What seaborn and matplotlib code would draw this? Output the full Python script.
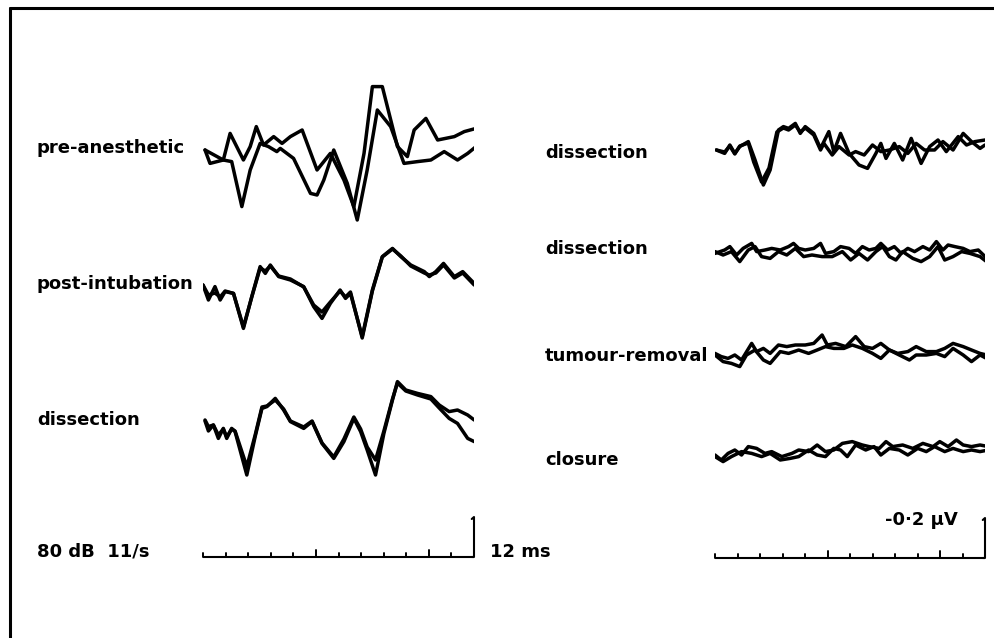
import matplotlib
matplotlib.use("Agg")
import matplotlib.pyplot as plt
from matplotlib.lines import Line2D
import seaborn as sns

# Hörselsvar (ABR), två svep per tillstånd. Tid i ms, amplitud i µV.

# --- vänster panel ---
pre_t1 = [0.09, 0.31, 0.90, 1.27, 1.72, 2.09, 2.53, 2.90, 3.27, 3.42, 4.01, 4.76, 5.05, 5.35,
          5.79, 6.39, 6.83, 7.27, 7.72, 8.31, 8.90, 9.50, 10.09, 10.68, 11.27, 11.72, 12.09]
pre_a1 = [0.0, -0.067, -0.05, -0.058, -0.283, -0.10, 0.033, 0.017, -0.008, 0.008, -0.042, -0.217,
          -0.225, -0.15, 0.0, -0.167, -0.35, -0.10, 0.20, 0.117, -0.067, -0.058, -0.05, -0.008,
          -0.05, -0.017, 0.017]
pre_t2 = [0.09, 0.90, 1.20, 1.79, 2.09, 2.36, 2.68, 3.13, 3.50, 3.87, 4.39, 5.05, 5.64, 6.24,
          6.68, 7.13, 7.50, 7.94, 8.61, 9.05, 9.35, 9.87, 10.39, 11.13, 11.57, 12.09]
pre_a2 = [0.0, -0.05, 0.083, -0.05, 0.017, 0.117, 0.025, 0.067, 0.033, 0.067, 0.10, -0.10,
          -0.017, -0.15, -0.283, -0.017, 0.317, 0.317, 0.017, -0.033, 0.10, 0.158, 0.05, 0.067,
          0.092, 0.108]

post_t = [0.0, 0.24, 0.53, 0.76, 0.98, 1.35, 1.79, 2.16, 2.53, 2.76, 2.98, 3.35, 3.87, 4.46,
          4.90, 5.27, 5.64, 6.07, 6.31, 6.53, 7.05, 7.50, 7.94, 8.39, 8.76, 9.20, 9.80, 10.02,
          10.31, 10.65, 11.13, 11.50, 12.01]
post_a1 = [0.0, -0.075, -0.008, -0.075, -0.033, -0.042, -0.217, -0.058, 0.092, 0.058, 0.10,
           0.042, 0.025, -0.008, -0.108, -0.167, -0.092, -0.025, -0.067, -0.042, -0.258, -0.025,
           0.142, 0.183, 0.142, 0.10, 0.067, 0.042, 0.067, 0.108, 0.042, 0.067, 0.008]
post_a2 = [0.0, -0.05, -0.04, -0.06, -0.03, -0.042, -0.21, -0.06, 0.085, 0.07, 0.095, 0.045,
           0.03, -0.01, -0.10, -0.135, -0.085, -0.03, -0.06, -0.035, -0.265, -0.03, 0.14, 0.18,
           0.145, 0.095, 0.06, 0.05, 0.06, 0.10, 0.035, 0.06, 0.0]

dis_t = [0.09, 0.24, 0.46, 0.68, 0.90, 1.05, 1.27, 1.42, 1.94, 2.31, 2.61, 2.83, 3.20, 3.57,
         3.87, 4.46, 4.83, 5.27, 5.79, 6.24, 6.68, 6.98, 7.27, 7.64, 8.01, 8.39, 8.61, 8.98,
         9.50, 10.09, 10.46, 10.90, 11.27, 11.72, 12.01]
dis_a1 = [0.025, -0.008, 0.0, -0.067, -0.017, -0.067, -0.017, -0.033, -0.25, -0.058, 0.083,
          0.092, 0.133, 0.075, 0.017, -0.017, 0.017, -0.092, -0.167, -0.083, 0.033, -0.033,
          -0.125, -0.25, -0.042, 0.125, 0.217, 0.175, 0.158, 0.142, 0.10, 0.067, 0.075, 0.05,
          0.025]
dis_a2 = [0.02, -0.03, 0.0, -0.05, -0.02, -0.06, -0.02, -0.03, -0.208, -0.05, 0.09, 0.095,
          0.125, 0.08, 0.02, -0.01, 0.02, -0.09, -0.16, -0.07, 0.04, -0.02, -0.11, -0.175,
          -0.03, 0.13, 0.21, 0.17, 0.15, 0.13, 0.085, 0.033, 0.008, -0.067, -0.083]

# --- höger panel ---
rd1_t1 = [0.06, 0.43, 0.66, 0.88, 1.10, 1.48, 1.78, 2.15, 2.45, 2.82, 3.04, 3.27, 3.57, 3.79,
          4.01, 4.39, 4.69, 5.06, 5.28, 5.58, 5.96, 6.40, 6.78, 7.15, 7.37, 7.60, 7.97, 8.34,
          8.72, 9.16, 9.54, 9.91, 10.28, 10.81, 11.18, 11.55, 12.0]
rd1_a1 = [0.0, -0.017, 0.025, -0.017, 0.017, 0.042, -0.05, -0.175, -0.10, 0.10, 0.117, 0.108,
          0.133, 0.083, 0.117, 0.083, 0.008, 0.092, -0.008, 0.083, -0.017, -0.075, -0.092,
          -0.017, 0.033, -0.042, 0.033, -0.05, 0.058, -0.067, 0.017, 0.05, -0.008, 0.067,
          0.025, 0.042, 0.05]
rd1_t2 = [0.06, 0.43, 0.66, 0.88, 1.10, 1.48, 1.72, 2.07, 2.40, 2.75, 3.04, 3.27, 3.57, 3.79,
          4.01, 4.39, 4.69, 4.84, 5.21, 5.51, 5.96, 6.25, 6.63, 7.00, 7.37, 7.75, 8.19, 8.57,
          8.94, 9.31, 9.76, 10.13, 10.58, 11.03, 11.40, 11.78, 12.0]
rd1_a2 = [0.0, -0.01, 0.02, -0.02, 0.02, 0.035, -0.06, -0.16, -0.09, 0.09, 0.11, 0.10, 0.125,
          0.09, 0.11, 0.075, 0.0, 0.033, -0.025, 0.017, -0.025, -0.008, -0.025, 0.025, -0.008,
          0.0, 0.017, -0.017, 0.033, 0.0, 0.0, 0.042, 0.0, 0.083, 0.042, 0.008, 0.025]

rd2_t1 = [0.0, 0.43, 0.66, 0.96, 1.25, 1.63, 1.85, 2.22, 2.52, 2.90, 3.27, 3.49, 3.72, 4.01,
          4.39, 4.69, 4.91, 5.28, 5.58, 5.96, 6.25, 6.55, 6.85, 7.15, 7.37, 7.67, 7.97, 8.27,
          8.57, 8.87, 9.24, 9.54, 9.84, 10.13, 10.36, 10.66, 11.03, 11.33, 11.70, 12.07]
rd2_a1 = [-0.017, 0.0, 0.017, -0.025, 0.008, 0.033, -0.008, 0.0, 0.008, 0.0, 0.017, 0.033,
          0.008, 0.0, 0.008, 0.033, -0.017, -0.008, 0.017, 0.008, -0.017, 0.017, 0.0, 0.008,
          0.033, 0.0, 0.017, -0.017, 0.008, -0.008, 0.017, 0.0, 0.042, 0.0, 0.025, 0.017,
          0.008, -0.008, 0.0, -0.04]
rd2_t2 = [0.0, 0.36, 0.73, 1.10, 1.48, 1.78, 2.07, 2.45, 2.82, 3.19, 3.57, 3.94, 4.31, 4.76,
          5.21, 5.66, 6.03, 6.40, 6.78, 7.15, 7.45, 7.75, 8.04, 8.34, 8.79, 9.16, 9.54, 9.91,
          10.21, 10.58, 10.96, 11.33, 11.78, 12.07]
rd2_a2 = [-0.008, -0.025, -0.008, -0.058, 0.0, 0.017, -0.033, -0.042, -0.008, -0.025, 0.008,
          -0.033, -0.025, -0.033, -0.033, -0.008, -0.05, -0.017, -0.05, -0.008, 0.017, -0.033,
          -0.05, -0.008, -0.042, -0.058, -0.033, 0.017, -0.05, -0.033, -0.008, -0.017, -0.033,
          -0.058]

tum_t1 = [0.0, 0.28, 0.58, 0.88, 1.18, 1.63, 1.85, 2.15, 2.45, 2.82, 3.19, 3.57, 4.01, 4.39,
          4.76, 4.99, 5.36, 5.81, 6.25, 6.63, 7.00, 7.37, 7.75, 8.12, 8.57, 8.94, 9.39, 9.84,
          10.21, 10.58, 11.03, 11.40, 11.78, 12.07]
tum_a1 = [0.008, -0.008, -0.017, 0.0, -0.025, 0.058, 0.017, 0.033, 0.008, 0.05, 0.042, 0.05,
          0.05, 0.058, 0.10, 0.05, 0.058, 0.042, 0.092, 0.042, 0.033, 0.058, 0.025, 0.008,
          0.017, 0.042, 0.017, 0.017, 0.033, 0.058, 0.042, 0.025, 0.008, 0.0]
tum_t2 = [0.0, 0.36, 0.73, 1.10, 1.40, 1.78, 2.15, 2.45, 2.90, 3.27, 3.72, 4.16, 4.54, 4.91,
          5.28, 5.73, 6.10, 6.55, 7.00, 7.37, 7.75, 8.19, 8.64, 8.94, 9.39, 9.84, 10.21, 10.58,
          11.03, 11.40, 11.78, 12.07]
tum_a2 = [0.0, -0.033, -0.042, -0.058, 0.0, 0.025, -0.025, -0.042, 0.017, 0.008, 0.025, 0.008,
          0.025, 0.042, 0.033, 0.033, 0.05, 0.033, 0.008, -0.017, 0.025, 0.0, -0.025, 0.0, 0.0,
          0.008, -0.008, 0.033, 0.0, -0.033, 0.0, -0.017]

clo_t1 = [0.0, 0.28, 0.58, 0.88, 1.18, 1.48, 1.85, 2.22, 2.52, 2.97, 3.42, 3.72, 4.16, 4.54,
          4.91, 5.28, 5.66, 6.10, 6.55, 6.85, 7.30, 7.60, 7.90, 8.34, 8.79, 9.24, 9.69, 9.99,
          10.36, 10.73, 11.03, 11.40, 11.78, 12.15]
clo_a1 = [0.0, -0.025, 0.008, 0.025, 0.0, 0.042, 0.033, 0.008, 0.017, -0.008, 0.008, 0.025,
          0.017, 0.05, 0.017, 0.025, 0.058, 0.067, 0.05, 0.042, 0.033, 0.067, 0.042, 0.05,
          0.033, 0.058, 0.042, 0.067, 0.042, 0.075, 0.05, 0.042, 0.05, 0.042]
clo_t2 = [0.0, 0.36, 0.73, 1.18, 1.63, 2.07, 2.45, 2.90, 3.34, 3.72, 4.16, 4.54, 4.91, 5.28,
          5.58, 5.88, 6.25, 6.70, 7.07, 7.37, 7.75, 8.19, 8.57, 9.01, 9.39, 9.76, 10.21, 10.58,
          11.03, 11.40, 11.78, 12.15]
clo_a2 = [-0.008, -0.033, -0.008, 0.017, 0.008, -0.008, 0.008, -0.025, -0.017, -0.008, 0.025,
          0.0, -0.008, 0.033, 0.025, -0.008, 0.05, 0.025, 0.042, 0.0, 0.033, 0.025, 0.0, 0.033,
          0.017, 0.042, 0.017, 0.033, 0.017, 0.025, 0.017, 0.025]

left_labels = ["pre-anesthetic", "post-intubation", "dissection"]
right_labels = ["dissection", "dissection", "tumour-removal", "closure"]
scale_ticks_ms = list(range(0, 13))
major_ticks_ms = [5, 10]
amp_bar_uv = 0.2

# Layout: pixel-rader för baslinjer (y i µV, 200 px per µV, 0 vid överkant)
W, H = 994, 638
PX_PER_UV = 200.0


def base(py):
    return -py / PX_PER_UV


left_traces = [
    ((pre_t1, pre_a1), (pre_t2, pre_a2), base(150)),
    ((post_t, post_a1), (post_t, post_a2), base(285)),
    ((dis_t, dis_a1), (dis_t, dis_a2), base(425)),
]
right_traces = [
    ((rd1_t1, rd1_a1), (rd1_t2, rd1_a2), base(150)),
    ((rd2_t1, rd2_a1), (rd2_t2, rd2_a2), base(250)),
    ((tum_t1, tum_a1), (tum_t2, tum_a2), base(355)),
    ((clo_t1, clo_a1), (clo_t2, clo_a2), base(455)),
]

sns.set_style("white")
plt.rcParams["font.family"] = ["DejaVu Sans"]

fig = plt.figure(figsize=(W / 100, H / 100), dpi=100)
ax_l = fig.add_axes([203 / W, 0, 271 / W, 1])
ax_r = fig.add_axes([715 / W, 0, 270 / W, 1])


def draw_panel(ax, traces, bar_py):
    for (t1, a1), (t2, a2), off in traces:
        for t, a in ((t1, a1), (t2, a2)):
            sns.lineplot(x=t, y=[v + off for v in a], ax=ax, color="black", lw=2.5,
                         sort=False, estimator=None, legend=False)
    # tidsskala 0-12 ms med ticks varje ms
    yb = base(bar_py)
    ax.plot([scale_ticks_ms[0], scale_ticks_ms[-1]], [yb, yb], color="black", lw=1.5,
            solid_capstyle="butt", clip_on=False)
    for ms in scale_ticks_ms[:-1]:
        h = 0.035 if ms in major_ticks_ms else 0.018
        ax.plot([ms, ms], [yb, yb + h], color="black", lw=1.4, clip_on=False)
    end = scale_ticks_ms[-1]
    ax.plot([end - 0.1, end, end, end - 0.1],
            [yb, yb, yb + amp_bar_uv, yb + amp_bar_uv - 0.01],
            color="black", lw=1.5, clip_on=False)
    ax.set_xlim(0, 12)
    ax.set_ylim(-H / PX_PER_UV, 0)
    ax.axis("off")


draw_panel(ax_l, left_traces, 557)
draw_panel(ax_r, right_traces, 558)

label_kw = dict(fontsize=13, fontweight="bold", va="center", ha="left", color="black")
for lab, py in zip(left_labels, [148, 284, 420]):
    fig.text(37 / W, 1 - py / H, lab, **label_kw)
for lab, py in zip(right_labels, [153, 249, 356, 460]):
    fig.text(545 / W, 1 - py / H, lab, **label_kw)

fig.text(37 / W, 1 - 552 / H, "80 dB  11/s", **label_kw)
fig.text(490 / W, 1 - 552 / H, "12 ms", **label_kw)
fig.text(885 / W, 1 - 520 / H, "-0·2 µV", **label_kw)

# ram runt figuren (överkant och vänsterkant syns)
fig.add_artist(Line2D([10 / W, 1], [1 - 8 / H, 1 - 8 / H], color="black", lw=2.2,
                      transform=fig.transFigure))
fig.add_artist(Line2D([10 / W, 10 / W], [0, 1 - 8 / H], color="black", lw=2.2,
                      transform=fig.transFigure))

fig.savefig("out.png", dpi=100, facecolor="white")
